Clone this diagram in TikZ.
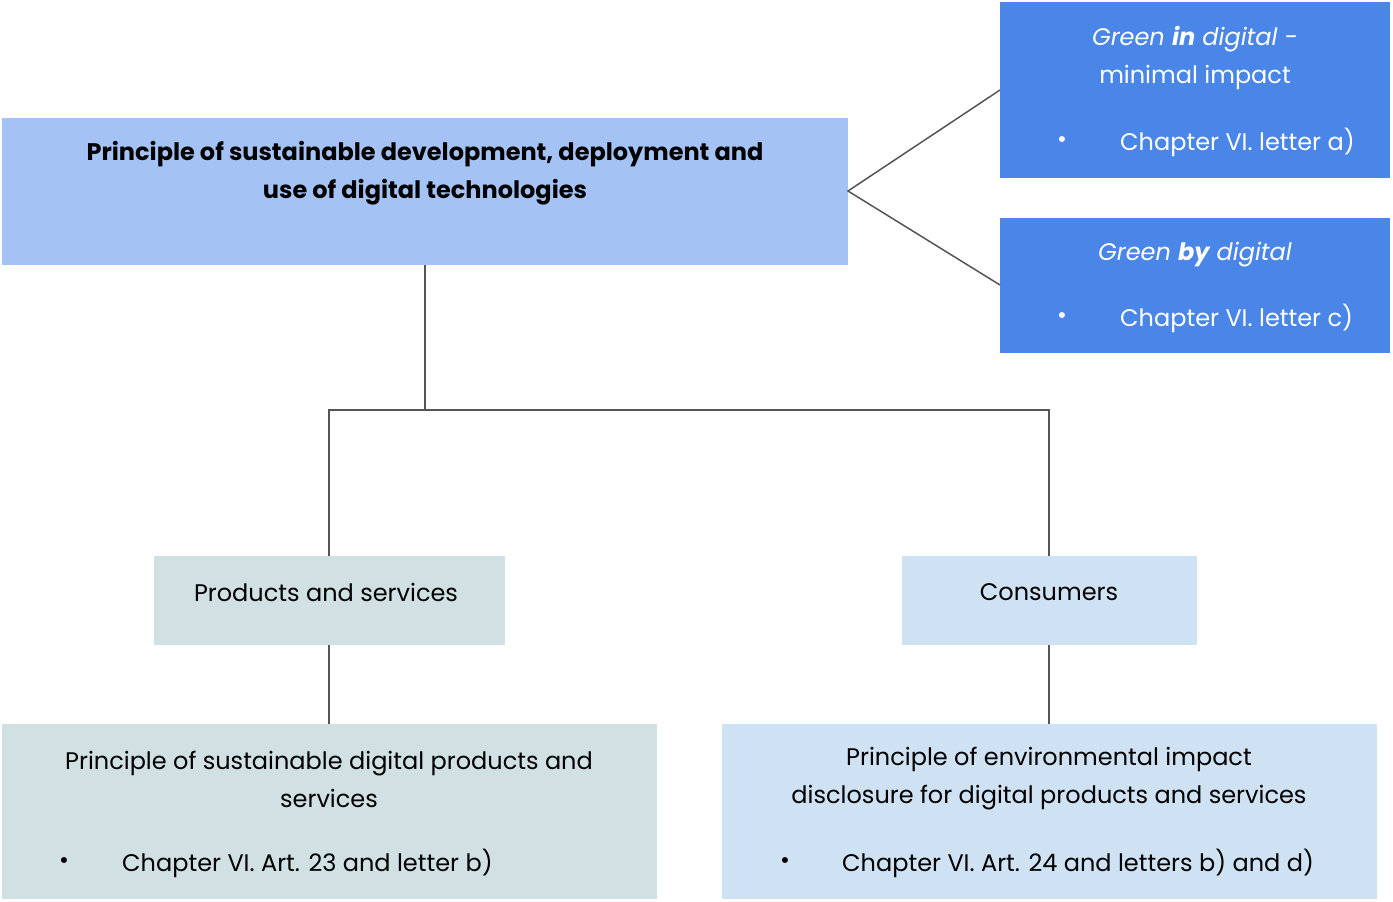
\documentclass[tikz,border=0pt]{standalone}
\usepackage{fontspec}
\setmainfont{Poppins}
\definecolor{mainc}{HTML}{A4C2F4}
\definecolor{blue}{HTML}{4A86E8}
\definecolor{teal}{HTML}{D0E0E3}
\definecolor{lblue}{HTML}{CFE2F3}
\definecolor{ln}{HTML}{555555}
\begin{document}
\begin{tikzpicture}[x=1pt,y=-1pt,
  box/.style={draw=none,inner sep=0},
  t/.style={font=\fontsize{24}{38}\selectfont,align=center,inner sep=0},
  con/.style={draw=ln,line width=1.5pt}]
\useasboundingbox (0,0) rectangle (1393,902);
\fill[mainc] (2,118) rectangle (848,265); \coordinate (m1) at (2,118);
\fill[blue] (1000,2) rectangle (1390,178);
\fill[blue] (1000,218) rectangle (1390,353);
\fill[teal] (154,556) rectangle (505,645);
\fill[lblue] (902,556) rectangle (1197,645);
\fill[teal] (2,724) rectangle (657,899);
\fill[lblue] (722,724) rectangle (1377,899);
\node[t,font=\fontsize{24}{38}\selectfont\bfseries] (main) at (425,173) {Principle of sustainable development, deployment and\\use of digital technologies};
\node[t,text=white] (gin) at (1195,58) {\textit{Green \textbf{in} digital -}\\minimal impact};
\node[t,text=white] (gin2) at (1062,142) {•};
\node[t,text=white,anchor=west] (gin3) at (1120,142) {Chapter VI. letter a)};
\node[t,text=white] (gby) at (1195,255) {\textit{Green \textbf{by} digital}};
\node[t,text=white] (gby2) at (1062,318) {•};
\node[t,text=white,anchor=west] (gby3) at (1120,318) {Chapter VI. letter c)};
\node[t] (ps) at (326,592) {Products and services};
\node[t] (cs) at (1049,592) {Consumers};
\node[t] (bl) at (329,779) {Principle of sustainable digital products and\\services};
\node[t] (bl2) at (64,863) {•};
\node[t,anchor=west] (bl3) at (122,863) {Chapter VI. Art. 23 and letter b)};
\node[t] (br) at (1049,779) {Principle of environmental impact\\disclosure for digital products and services};
\node[t] (br2) at (785,863) {•};
\node[t,anchor=west] (br3) at (842,863) {Chapter VI. Art. 24 and letters b) and d)};
\coordinate (mr) at (848,191); \coordinate (a) at (1000,90); \coordinate (b) at (1000,285);
\draw[con] (a) -- (mr) -- (b);
\coordinate (mb) at (425,265); \coordinate (j) at (425,410);
\coordinate (jl) at (329,410); \coordinate (jr) at (1049,410);
\coordinate (pt) at (329,556); \coordinate (ct) at (1049,556);
\draw[con] (mb) -- (j);
\draw[con] (pt) -- (jl) -- (jr) -- (ct);
\draw[con] (329,645) -- (329,724);
\draw[con] (1049,645) -- (1049,724);
\end{tikzpicture}
\end{document}
